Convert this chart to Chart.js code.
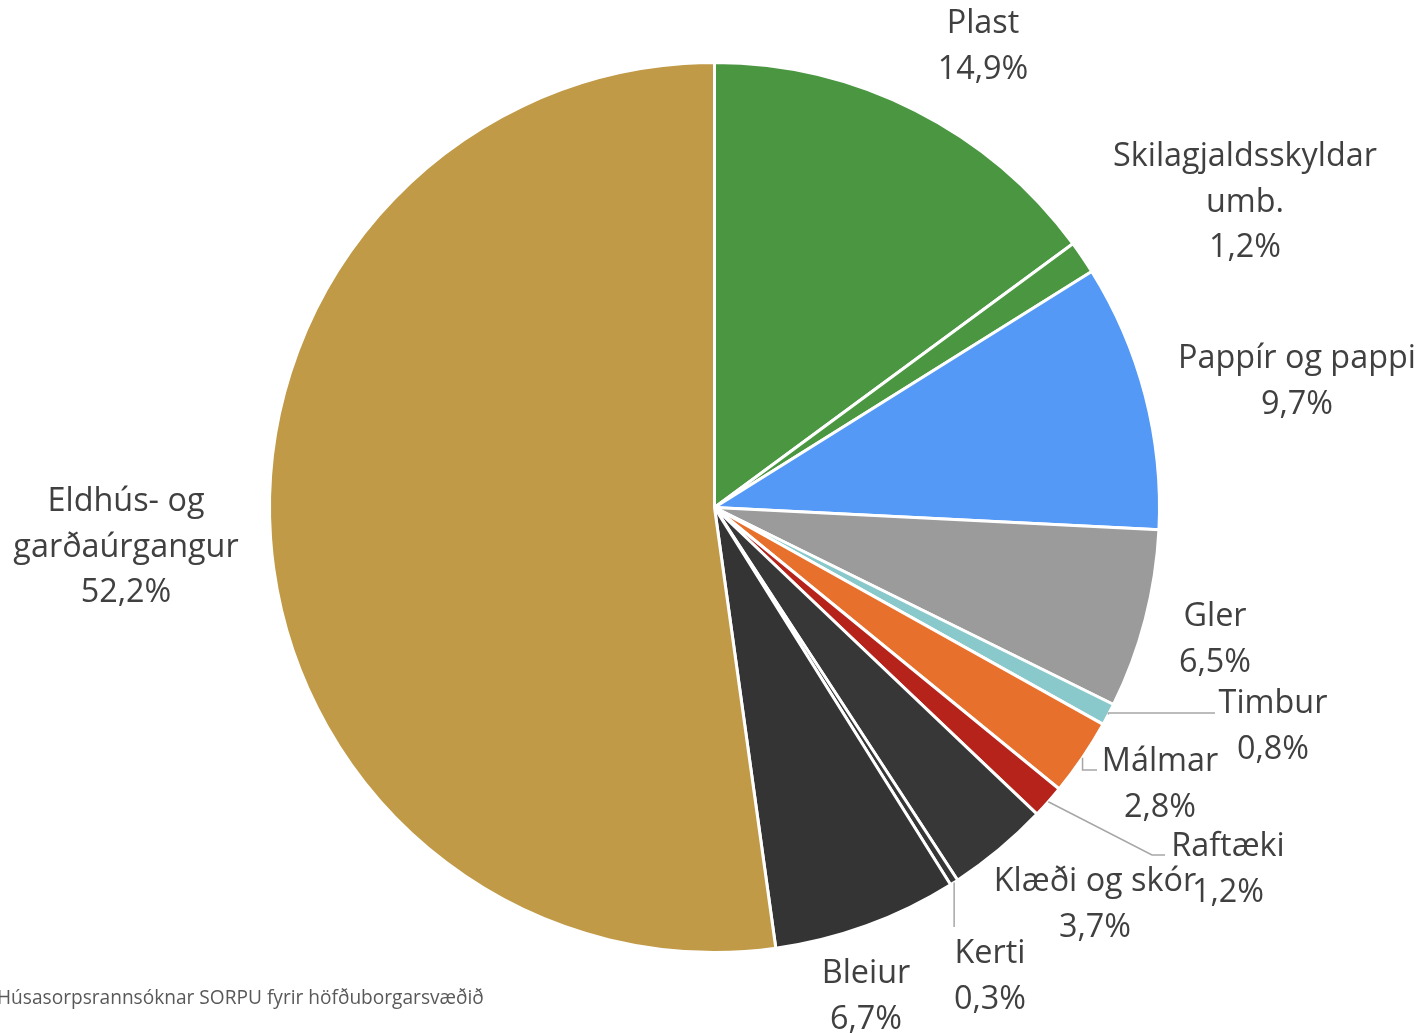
<!DOCTYPE html>
<html>
<head>
<meta charset="utf-8">
<script src="https://cdn.jsdelivr.net/npm/chart.js@4/dist/chart.umd.min.js"></script>
<style>
html,body{margin:0;padding:0;background:#fff;}
#wrap{position:relative;width:1419px;height:1033px;}
</style>
</head>
<body>
<div id="wrap"><canvas id="c"></canvas></div>
<script>
// ---- data ----
const categories = ["Plast", "Skilagjaldsskyldar umb.", "Pappír og pappi", "Gler", "Timbur", "Málmar", "Raftæki", "Klæði og skór", "Kerti", "Bleiur", "Eldhús- og garðaúrgangur"];
const shares = [14.9, 1.2, 9.7, 6.5, 0.8, 2.8, 1.2, 3.7, 0.3, 6.7, 52.2];
const sourceNote = "Húsasorpsrannsóknar SORPU fyrir höfðuborgarsvæðið";

// ---- styles / layout ----
const sliceColors = ["#4a9641", "#4a9641", "#5399f5", "#9b9b9b", "#89c9cb", "#e8702d", "#b5231b", "#373737", "#373737", "#343434", "#c09a46"];
const FONT = "'Open Sans', Lato, sans-serif";
const TXT = "#404040";
const LINE_H = 45.5;
const TEXT_DY = 2;
// label anchor (centre x, centre y of first line), words per line break
const labelLayout = [
  {x: 983, y: 22},
  {x: 1245, y: 155, breakAfter: 1},
  {x: 1297, y: 357},
  {x: 1215, y: 615},
  {x: 1273, y: 702, leader: {type: 'h', end: [1215, 713]}},
  {x: 1160, y: 760, leader: {type: 'L', end: [1097, 770]}},
  {x: 1228, y: 845, leader: {type: 'd', elbow: [1152, 855], end: [1165, 855]}},
  {x: 1095, y: 880},
  {x: 990, y: 952, leader: {type: 'v', end: [955, 927]}},
  {x: 866, y: 972},
  {x: 126, y: 500, breakAfter: 2}
];

function fitSize(ctx, text, targetW) {
  ctx.font = "30px " + FONT;
  const w = ctx.measureText(text).width;
  return 30 * targetW / w;
}

const labelPlugin = {
  id: 'pieLabels',
  afterDatasetsDraw(chart) {
    const ctx = chart.ctx;
    const meta = chart.getDatasetMeta(0);
    ctx.save();
    // leaders
    ctx.strokeStyle = "#a6a6a6";
    ctx.lineWidth = 1.5;
    meta.data.forEach((arc, i) => {
      const lay = labelLayout[i];
      if (!lay.leader) return;
      const p = arc.getProps(['x', 'y', 'startAngle', 'endAngle', 'outerRadius'], true);
      const mid = (p.startAngle + p.endAngle) / 2;
      const ex = p.x + Math.cos(mid) * p.outerRadius;
      const ey = p.y + Math.sin(mid) * p.outerRadius;
      const L = lay.leader;
      ctx.beginPath();
      ctx.moveTo(ex, ey);
      if (L.type === 'h' || L.type === 'L') {
        ctx.lineTo(ex, L.end[1]);
        ctx.lineTo(L.end[0], L.end[1]);
      } else if (L.type === 'd') {
        ctx.lineTo(L.elbow[0], L.elbow[1]);
        ctx.lineTo(L.end[0], L.end[1]);
      } else if (L.type === 'v') {
        ctx.lineTo(ex, L.end[1]);
      }
      ctx.stroke();
    });
    // texts
    const labelSize = fitSize(ctx, "Skilagjaldsskyldar", 264);
    const noteSize = fitSize(ctx, sourceNote, 487);
    ctx.fillStyle = TXT;
    ctx.font = labelSize.toFixed(2) + "px " + FONT;
    ctx.textAlign = 'center';
    ctx.textBaseline = 'middle';
    categories.forEach((name, i) => {
      const lay = labelLayout[i];
      let lines;
      if (lay.breakAfter) {
        const w = name.split(' ');
        lines = [w.slice(0, lay.breakAfter).join(' '), w.slice(lay.breakAfter).join(' ')];
      } else {
        lines = [name];
      }
      lines.push(shares[i].toFixed(1).replace('.', ',') + '%');
      lines.forEach((t, k) => ctx.fillText(t, lay.x, lay.y + TEXT_DY + k * LINE_H));
    });
    // source note
    ctx.fillStyle = "#595959";
    ctx.font = noteSize.toFixed(2) + "px " + FONT;
    ctx.textAlign = 'left';
    ctx.fillText(sourceNote, -3, 999);
    ctx.restore();
  }
};

new Chart(document.getElementById('c'), {
  type: 'pie',
  data: {
    labels: categories,
    datasets: [{
      data: shares,
      backgroundColor: sliceColors,
      borderColor: '#ffffff',
      borderWidth: 3,
      hoverOffset: 0
    }]
  },
  options: {
    responsive: true,
    maintainAspectRatio: false,
    animation: false,
    layout: {padding: {top: 61, bottom: 79, left: 268, right: 258}},
    plugins: {legend: {display: false}, tooltip: {enabled: false}}
  },
  plugins: [labelPlugin]
});
</script>
</body>
</html>
